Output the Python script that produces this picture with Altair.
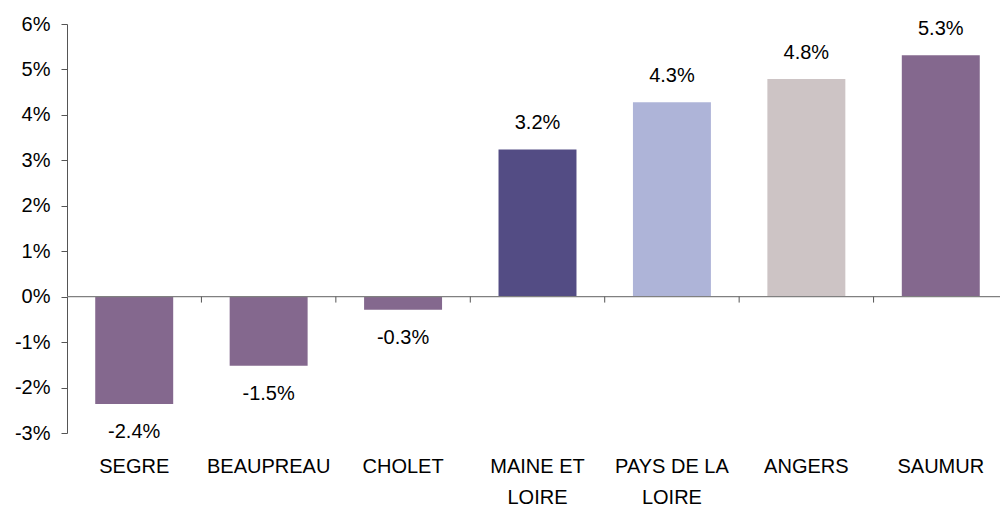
import altair as alt
import pandas as pd

categories = ["SEGRE", "BEAUPREAU", "CHOLET", "MAINE ET LOIRE", "PAYS DE LA LOIRE", "ANGERS", "SAUMUR"]
values = [-2.36, -1.52, -0.29, 3.24, 4.28, 4.79, 5.31]
colors = ["#84688E", "#84688E", "#84688E", "#534C84", "#AEB4D8", "#CDC4C5", "#84688E"]
y_ticks = [-3, -2, -1, 0, 1, 2, 3, 4, 5, 6]

df = pd.DataFrame({"cat": categories, "v": values})
FONT = "Liberation Sans"
FS = 20

xscale = alt.Scale(domain=categories, range=[0, 941], paddingInner=0, paddingOuter=0)
yscale = alt.Scale(domain=[-3, 6], nice=False, zero=False)

label_expr = ("datum.value == 'MAINE ET LOIRE' ? ['MAINE ET', 'LOIRE'] : "
              "datum.value == 'PAYS DE LA LOIRE' ? ['PAYS DE LA', 'LOIRE'] : datum.value")

x_axis = alt.Axis(title=None, domain=False, ticks=False, grid=False, labelAngle=0,
                  labelExpr=label_expr, labelFont=FONT, labelFontSize=FS,
                  labelColor="#000000", labelPadding=23, labelLineHeight=31)
y_axis = alt.Axis(title=None, values=y_ticks, grid=False,
                  labelExpr="replace(format(datum.value, 'd'), '\u2212', '-') + '%'",
                  labelFont=FONT, labelFontSize=FS, labelColor="#000000",
                  domainColor="#555555", tickColor="#555555", tickSize=6,
                  labelPadding=11)

base = alt.Chart(df)

bars = base.mark_bar(width=alt.RelativeBandSize(0.58)).encode(
    x=alt.X("cat:N", scale=xscale, sort=categories, axis=x_axis),
    y=alt.Y("v:Q", scale=yscale, axis=y_axis),
    color=alt.Color("cat:N", scale=alt.Scale(domain=categories, range=colors), legend=None),
)

zero = alt.Chart(pd.DataFrame({"z": [0]})).mark_rule(color="#808080", strokeWidth=1.2).encode(
    y=alt.Y("z:Q", scale=yscale, axis=y_axis)
)

ticks = base.transform_filter(alt.datum.cat != categories[0]).mark_rule(
    color="#555555", strokeWidth=1
).encode(
    x=alt.X("cat:N", scale=xscale, sort=categories, bandPosition=0, axis=x_axis),
    y=alt.datum(0),
    y2=alt.datum(-0.13),
)

lbl_expr = "replace(format(datum.v, '.1f'), '\u2212', '-') + '%'"

pos_text = base.transform_filter(alt.datum.v >= 0).transform_calculate(
    lbl=lbl_expr
).mark_text(font=FONT, fontSize=FS, color="#000000", baseline="alphabetic", dy=-20).encode(
    x=alt.X("cat:N", scale=xscale, sort=categories, axis=x_axis),
    y=alt.Y("v:Q", scale=yscale, axis=y_axis),
    text="lbl:N",
)

neg_text = base.transform_filter(alt.datum.v < 0).transform_calculate(
    lbl=lbl_expr
).mark_text(font=FONT, fontSize=FS, color="#000000", baseline="alphabetic", dy=34).encode(
    x=alt.X("cat:N", scale=xscale, sort=categories, axis=x_axis),
    y=alt.Y("v:Q", scale=yscale, axis=y_axis),
    text="lbl:N",
)

chart = alt.layer(bars, zero, ticks, pos_text, neg_text).properties(
    width=933, height=409,
    background="white",
    autosize=alt.AutoSizeParams(type="none"),
    padding={"left": 67, "top": 24, "right": 0, "bottom": 73},
).configure_axis(grid=False).configure_view(stroke=None)

chart.save("out.html", embed_options={"renderer": "svg", "actions": False})
